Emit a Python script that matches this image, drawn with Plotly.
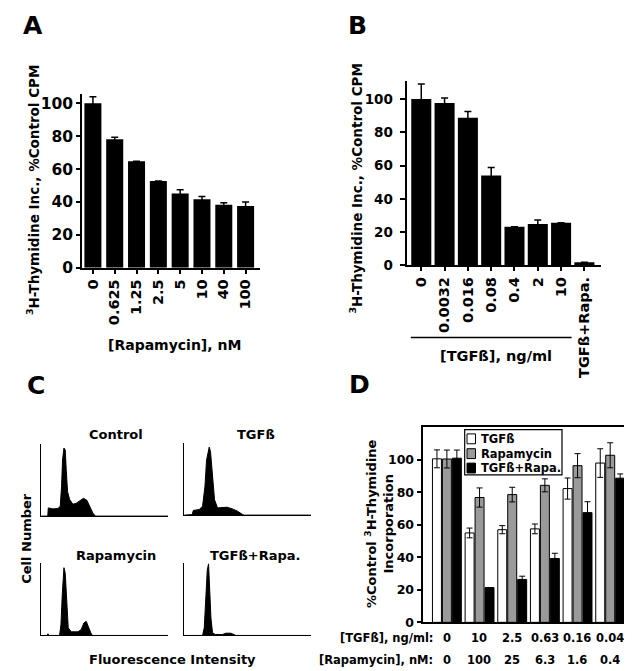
import plotly.graph_objects as go

W, H = 632, 671

# ---------------- data ----------------
# Panel A
rapa_doses = ["0", "0.625", "1.25", "2.5", "5", "10", "40", "100"]
rapa_cpm = [100, 78.2, 64.8, 52.8, 45.2, 41.6, 38.4, 37.6]
rapa_err = [4.0, 1.2, 0, 0, 2.2, 1.8, 1.2, 2.4]

# Panel B
tgf_doses = ["0", "0.0032", "0.016", "0.08", "0.4", "2", "10", "TGFß+Rapa."]
tgf_cpm = [100, 97.6, 88.7, 54.0, 23.3, 24.9, 25.7, 2.0]
tgf_err = [9.0, 3.0, 3.8, 4.9, 0, 2.4, 0, 0]

# Panel C (DNA content histograms: channel, cell count)
ctrl_ch = [0, 6.5, 7, 11.7, 16.7, 19, 20.3, 21.3, 22.7, 24, 25, 26.3, 28.3, 31.7, 35, 39, 42.3, 45.7, 49, 51.7, 54.3, 127]
ctrl_n = [0, 0, 8.3, 7.3, 7.7, 10, 30, 57, 69, 67, 47, 25, 17, 12, 13, 16, 18, 16, 8, 3, 0, 0]

tgfh_ch = [0, 8, 9, 15, 18.3, 20.7, 22.3, 24.3, 25, 26.3, 28.3, 30.3, 33.3, 38.3, 42.7, 48.3, 53.3, 58.3, 60, 127]
tgfh_n = [0, 0.5, 4.7, 5.7, 9, 29, 55.7, 68, 69, 64, 39, 15.7, 7.3, 7.3, 8, 6.3, 4, 0.7, 0, 0]

rapah_ch = [0, 5.7, 6.7, 7.7, 18.3, 19.7, 21, 22.7, 24, 25.3, 27, 30, 36.7, 40, 42.7, 45, 47.3, 50, 51.7, 127]
rapah_n = [0, 0, 1.7, 0, 0, 11, 41, 68.7, 63, 34, 7.7, 3.7, 3.7, 6, 12.7, 14.3, 8.3, 1.7, 0, 0]

combo_ch = [0, 18.3, 20, 21.3, 23, 24.3, 25.3, 26.7, 28.3, 31, 38.3, 41.7, 46.7, 50, 51.7, 127]
combo_n = [0, 0, 7.7, 37.7, 66, 72.7, 54, 17.7, 2.7, 1, 1, 2.3, 2.3, 0.7, 0, 0]

# Panel D
d_groups = [0, 1, 2, 3, 4, 5]
d_tgf_labels = ["0", "10", "2.5", "0.63", "0.16", "0.04"]
d_rapa_labels = ["0", "100", "25", "6.3", "1.6", "0.4"]
d_series = ["TGFß", "Rapamycin", "TGFß+Rapa."]
d_colors = ["white", "#9a9a9a", "black"]
d_tgf = [100.6, 55, 57, 57.5, 82.3, 98]
d_tgf_err = [5.5, 3, 2.5, 3, 6.5, 8.8]
d_rapa = [100.5, 76.8, 78.6, 84.3, 96.4, 102.8]
d_rapa_err = [5.5, 5.9, 4.5, 4, 7.4, 7.7]
d_combo = [101, 21.4, 26.4, 39.3, 67.5, 88.7]
d_combo_err = [5, 0, 2, 3.2, 6.7, 2.6]


# ---------------- helpers ----------------
def f(size):
    return dict(family="DejaVu Sans", weight="bold", color="black", size=size)


def px(x):
    return x / W


def py(y):
    return 1 - y / H


def dom_x(a, b):
    return [px(a), px(b)]


def dom_y(top, bottom):
    return [py(bottom), py(top)]


fig = go.Figure()

# Panel A
fig.add_trace(go.Bar(
    x=rapa_doses, y=rapa_cpm, width=0.78,
    marker=dict(color="black", line=dict(width=0)),
    error_y=dict(type="data", array=rapa_err, symmetric=True, color="black", thickness=1.5, width=3.5),
    xaxis="x", yaxis="y", showlegend=False))

# Panel B
fig.add_trace(go.Bar(
    x=tgf_doses, y=tgf_cpm, width=0.86,
    marker=dict(color="black", line=dict(width=0)),
    error_y=dict(type="data", array=tgf_err, symmetric=True, color="black", thickness=1.5, width=3.5),
    xaxis="x2", yaxis="y2", showlegend=False))

# Panel C histograms
for i, (xs, ys) in enumerate([(ctrl_ch, ctrl_n), (tgfh_ch, tgfh_n), (rapah_ch, rapah_n), (combo_ch, combo_n)]):
    ax = str(i + 3)
    fig.add_trace(go.Scatter(
        x=xs, y=ys, mode="lines", fill="tozeroy", fillcolor="black",
        line=dict(color="black", width=1), xaxis="x" + ax, yaxis="y" + ax, showlegend=False,
        hoverinfo="skip"))

# Panel D
for name, vals, errs, col, off in zip(d_series, [d_tgf, d_rapa, d_combo],
                                      [d_tgf_err, d_rapa_err, d_combo_err], d_colors,
                                      [-0.44, -0.135, 0.17]):
    fig.add_trace(go.Bar(
        x=d_groups, y=vals, width=0.275, offset=off, name=name,
        marker=dict(color=col, line=dict(color="black", width=1)),
        error_y=dict(type="data", array=errs, symmetric=True, color="black", thickness=1, width=3),
        xaxis="x7", yaxis="y7", showlegend=False))

axis_common = dict(showline=True, linecolor="black", linewidth=1.5, showgrid=False, zeroline=False)
hist_x = dict(axis_common, linewidth=1, range=[0, 127], showticklabels=False, ticks="", tickvals=[],
              fixedrange=True)
hist_y = dict(axis_common, linewidth=1, range=[0, 73], showticklabels=False, ticks="", tickvals=[],
              fixedrange=True)

layout = dict(
    width=W, height=H, margin=dict(l=0, r=0, t=0, b=0),
    paper_bgcolor="white", plot_bgcolor="white", barmode="overlay", showlegend=False,
    # A
    xaxis=dict(axis_common, domain=dom_x(74, 252), type="category", range=[-0.5, 7.66],
               tickangle=-90, ticks="outside", ticklen=4, tickwidth=1.5, tickcolor="black",
               tickfont=f(14.5), anchor="y"),
    yaxis=dict(axis_common, domain=dom_y(87, 263.3), range=[0, 105.8], tickvals=[0, 20, 40, 60, 80, 100],
               ticks="outside", ticklen=4, tickwidth=1.5, tickcolor="black", tickfont=f(15.5), anchor="x"),
    # B
    xaxis2=dict(axis_common, domain=dom_x(399.3, 592.7), type="category", range=[-0.6, 7.7],
                tickangle=-90, ticks="outside", ticklen=4, tickwidth=1.5, tickcolor="black",
                tickfont=f(14.5), anchor="y2"),
    yaxis2=dict(axis_common, domain=dom_y(74, 261), range=[0, 110.8], tickvals=[0, 20, 40, 60, 80, 100],
                ticks="outside", ticklen=6, tickwidth=1.5, tickcolor="black", tickfont=f(13.5),
                ticklabelstandoff=4, anchor="x2"),
    # C
    xaxis3=dict(hist_x, domain=dom_x(33.3, 160), anchor="y3"),
    yaxis3=dict(hist_y, domain=dom_y(442, 515), anchor="x3"),
    xaxis4=dict(hist_x, domain=dom_x(176.3, 303), anchor="y4"),
    yaxis4=dict(hist_y, domain=dom_y(441, 514), anchor="x4"),
    xaxis5=dict(hist_x, domain=dom_x(33.3, 160), anchor="y5"),
    yaxis5=dict(hist_y, domain=dom_y(563, 636), anchor="x5"),
    xaxis6=dict(hist_x, domain=dom_x(176.3, 303), anchor="y6"),
    yaxis6=dict(hist_y, domain=dom_y(563, 636), anchor="x6"),
    # D
    xaxis7=dict(axis_common, domain=dom_x(415.3, 622.7), range=[-0.72, 5.63], mirror=True,
                showticklabels=False, ticks="", tickvals=[], anchor="y7"),
    yaxis7=dict(axis_common, domain=dom_y(425, 622.7), range=[0, 120], tickvals=[0, 20, 40, 60, 80, 100],
                mirror=True, ticks="outside", ticklen=5, tickwidth=1.5, tickcolor="black",
                tickfont=f(12.5), anchor="x7"),
)
fig.update_layout(**layout)

ann = []


def add_text(text, x, y, size, angle=0, xanchor="center", xref="paper"):
    ann.append(dict(text=text, x=x, y=y, xref=xref, yref="paper", showarrow=False, font=f(size),
                    textangle=angle, xanchor=xanchor, yanchor="middle"))


# Panel letters
add_text("A", px(25), py(18), 25)
add_text("B", px(349.5), py(17.5), 25)
add_text("C", px(27.5), py(383), 25)
add_text("D", px(351.5), py(382), 25)

# A titles
add_text("<sup>3</sup>H-Thymidine Inc., %Control CPM", px(25), py(184.5), 13.5, angle=-90)
add_text("[Rapamycin], nM", px(166), py(342), 14)

# B titles
add_text("<sup>3</sup>H-Thymidine Inc., %Control CPM", px(348.5), py(183.5), 13.5, angle=-90)
add_text("[TGFß], ng/ml", px(487.7), py(353), 14.5)

# C titles
add_text("Control", px(108), py(432), 13)
add_text("TGFß", px(248), py(432), 13)
add_text("Rapamycin", px(108), py(555), 13)
add_text("TGFß+Rapa.", px(247), py(555), 13)
add_text("Cell Number", px(18.5), py(537.5), 13, angle=-90)
add_text("Fluorescence Intensity", px(164), py(660), 13)

# D titles
add_text("%Control <sup>3</sup>H-Thymidine<br>Incorporation", px(372), py(523), 13, angle=-90)
add_text("[TGFß], ng/ml:", px(427), py(638.5), 11.5, xanchor="right")
add_text("[Rapamycin], nM:", px(427), py(661), 11.5, xanchor="right")
for g, t1, t2 in zip(d_groups, d_tgf_labels, d_rapa_labels):
    add_text(t1, g, py(638.5), 11.5, xref="x7")
    add_text(t2, g, py(661), 11.5, xref="x7")

# D legend (box + swatches + labels)
leg_rows = [436.7, 451.7, 466.3]
shapes = [dict(type="rect", xref="paper", yref="paper", x0=px(456.7), x1=px(554), y0=py(427.3), y1=py(473.3),
               fillcolor="white", line=dict(color="black", width=1.2), layer="above")]
for name, col, yr in zip(d_series, d_colors, leg_rows):
    shapes.append(dict(type="rect", xref="paper", yref="paper", x0=px(459), x1=px(467.5),
                       y0=py(yr - 5), y1=py(yr + 5), fillcolor=col, line=dict(color="black", width=1),
                       layer="above"))
    ann.append(dict(text=name, x=px(471), y=py(yr), xref="paper", yref="paper", showarrow=False,
                    font=f(11.5), xanchor="left", yanchor="middle"))

# bracket under TGFß doses in B
shapes.append(dict(type="line", xref="x2", yref="paper", x0=-0.45, x1=6.45, y0=py(334), y1=py(334),
                   line=dict(color="black", width=1.5)))

fig.update_layout(annotations=ann, shapes=shapes)

fig.write_html("out.html")
